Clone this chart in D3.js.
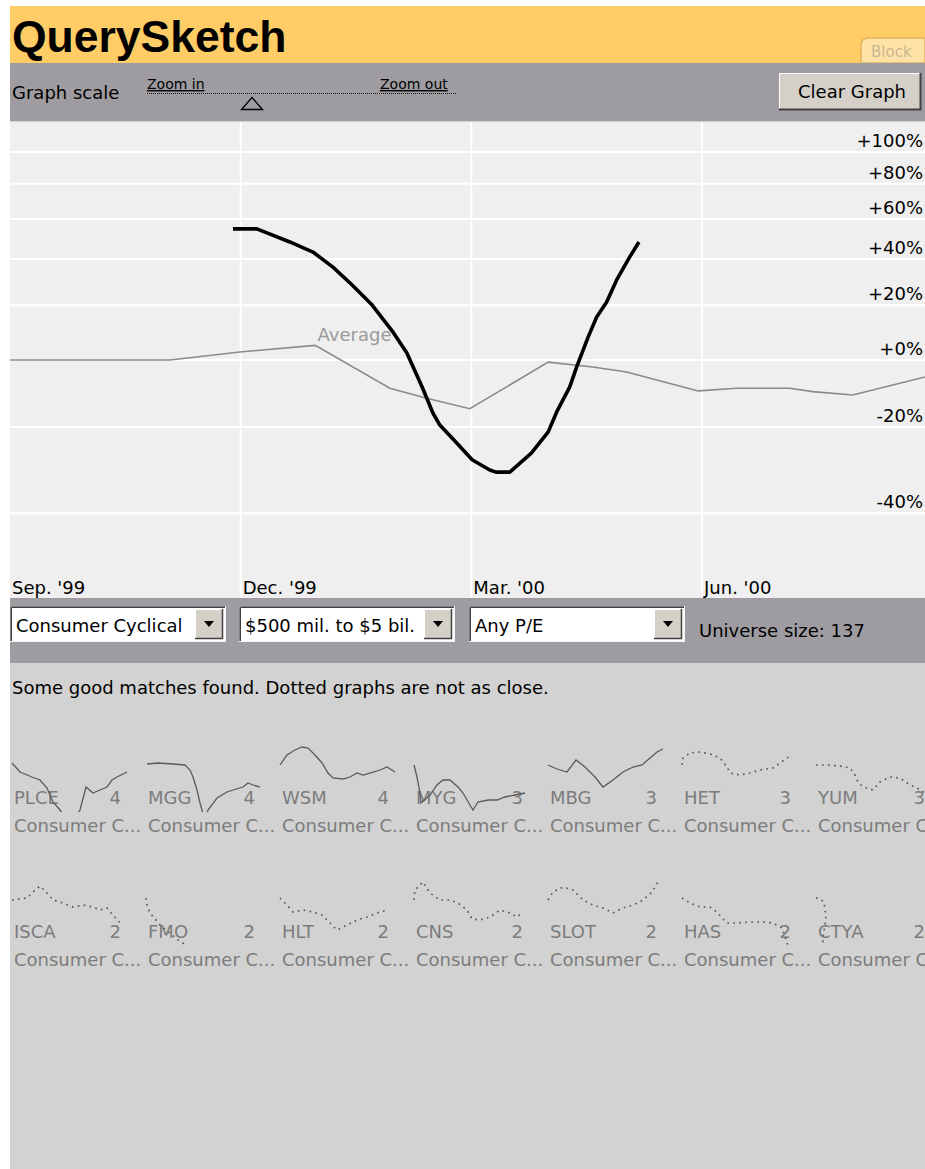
<!DOCTYPE html>
<html><head><meta charset="utf-8">
<script src="https://cdn.jsdelivr.net/npm/d3@7"></script>
<style>
body{margin:0;background:#fff}
svg{display:block}
text{font-family:"DejaVu Sans",sans-serif;font-size:18px}
</style>
</head><body>
<svg id="c" width="925" height="1169"></svg>
<script>
// ---------- data ----------
const xTickMonths = [0, 3, 6, 9];
const xTickLabels = ["Sep. '99", "Dec. '99", "Mar. '00", "Jun. '00"];
const yTicks = [100, 80, 60, 40, 20, 0, -20, -40];

// months since Sep '99, percent change
const avgMonths = [0, 2.08, 2.99, 3.97, 4.94, 5.42, 5.98, 7.0, 7.58, 8.02, 8.95, 9.45, 10.14, 10.44, 10.96, 11.9];
const avgValues = [0, 0, 2.7, 5.0, -9, -12, -15, -0.7, -2.3, -3.9, -9.8, -9, -9, -10, -11, -5.5];

const sketchMonths = [2.90, 3.21, 3.64, 3.94, 4.20, 4.45, 4.71, 4.98, 5.16, 5.36, 5.50, 5.59, 5.81, 6.01, 6.24, 6.32, 6.50, 6.78, 7.00, 7.11, 7.28, 7.37, 7.52, 7.63, 7.76, 7.89, 8.06, 8.18];
const sketchValues = [54.8, 54.8, 48.2, 43.3, 36.3, 28.4, 20.1, 9.8, 2.4, -8.6, -16.2, -19.5, -24.2, -28.3, -30.7, -31.2, -31.2, -26.7, -21.3, -15.9, -8.6, -2.3, 8.0, 15.4, 21.3, 30.6, 41.0, 48.2];

const filterLabels = ["Consumer Cyclical", "$500 mil. to $5 bil.", "Any P/E"];
const universeSize = 137;

const thumbTickers = ["PLCE", "MGG", "WSM", "MYG", "MBG", "HET", "YUM", "ISCA", "FMO", "HLT", "CNS", "SLOT", "HAS", "CTYA"];
const thumbScores = [4, 4, 4, 3, 3, 3, 3, 2, 2, 2, 2, 2, 2, 2];
const thumbSector = "Consumer C...";
const thumbDotted = [false, false, false, false, false, true, true, true, true, true, true, true, true, true];
// normalized sparkline shapes: [time index, relative level]
const thumbSeries = [
  [[0,49],[8,40],[20,35],[28,32],[35,24],[41,10],[48,2],[58,-13],[68,2],[74,25],[81,19],[88,22],[95,25],[100,32],[105,35],[115,40]],
  [[1,48],[12,49],[27,48],[39,47],[44,42],[47,35],[51,22],[54,9],[56,2],[58,-10],[62,2],[71,14],[81,20],[87,22],[97,25],[102,29],[107,27],[114,25]],
  [[0,47],[7,57],[15,62],[22,65],[28,64],[35,57],[42,49],[48,39],[53,34],[63,33],[70,35],[77,39],[83,37],[90,39],[100,42],[107,45],[115,40]],
  [[0,47],[3,35],[6,19],[7,9],[16,17],[23,27],[29,32],[36,32],[44,25],[49,19],[56,7],[59,2],[64,10],[74,12],[83,12],[91,15],[101,17],[111,19]],
  [[0,47],[9,43],[19,40],[28,52],[37,45],[47,35],[55,25],[65,32],[75,40],[85,45],[94,47],[102,54],[109,60],[115,63]],
  [[0,47],[1,54],[8,59],[18,60],[28,58],[38,54],[45,45],[48,39],[58,37],[68,39],[78,42],[91,44],[98,49],[108,56]],
  [[0,47],[11,47],[24,46],[34,44],[39,37],[42,30],[47,25],[57,22],[64,30],[74,35],[84,34],[94,27],[101,24],[109,19]],
  [[0,46],[15,48],[21,54],[28,60],[35,53],[41,46],[51,43],[61,39],[71,41],[81,39],[88,36],[95,38],[101,31],[108,23]],
  [[0,48],[1,41],[4,33],[15,20],[25,12],[32,6],[37,3],[45,-10]],
  [[0,48],[7,41],[13,34],[23,36],[33,34],[42,31],[50,23],[57,16],[67,21],[77,26],[87,29],[97,33],[107,36]],
  [[0,46],[1,56],[9,64],[16,53],[26,46],[36,46],[44,43],[53,36],[58,27],[66,26],[76,29],[86,36],[96,33],[103,29],[109,34]],
  [[0,46],[5,54],[15,59],[25,56],[35,46],[45,41],[55,38],[65,33],[75,38],[85,41],[95,46],[104,54],[110,64]],
  [[0,48],[8,43],[18,39],[28,39],[35,34],[40,28],[45,23],[55,23],[68,24],[81,24],[91,23],[100,18],[103,9],[105,4],[108,-10]],
  [[0,48],[4,47],[8,44],[9,36],[10,30],[9,21],[7,9],[7,-10]]
];

// ---------- layout ----------
const svg = d3.select("#c");
const W = 925;
const L = 10;
const plotTop = 121, plotBottom = 598;

// header
svg.append("rect").attr("x", L).attr("y", 6).attr("width", W - L).attr("height", 57).attr("fill", "#FFCC66");
svg.append("text").attr("x", 12).attr("y", 52).text("QuerySketch")
  .style("font-family", "'Liberation Sans',Arial,sans-serif").style("font-size", "44.5px").style("font-weight", "bold").attr("fill", "#000");
// Block tab
svg.append("path").attr("d", "M861,63 L861,46 Q861,38 869,38 L925,38 L925,63 Z")
  .attr("fill", "#FFE3A6").attr("stroke", "#E2B35E").attr("stroke-width", 1.5);
svg.append("text").attr("x", 871).attr("y", 57).text("Block").style("font-size", "15px").attr("fill", "#C9B793");

// graph scale bar
svg.append("rect").attr("x", L).attr("y", 63).attr("width", W - L).attr("height", 58).attr("fill", "#9E9CA0");
svg.append("text").attr("x", 12).attr("y", 99).text("Graph scale").attr("fill", "#000");
svg.append("text").attr("x", 147).attr("y", 89).text("Zoom in").style("font-size", "14px").style("text-decoration", "underline").attr("fill", "#000");
svg.append("text").attr("x", 380).attr("y", 89).text("Zoom out").style("font-size", "14px").style("text-decoration", "underline").attr("fill", "#000");
svg.append("line").attr("x1", 147).attr("x2", 456).attr("y1", 93.5).attr("y2", 93.5)
  .attr("stroke", "#111").attr("stroke-width", 1).attr("stroke-dasharray", "1,1");
svg.append("path").attr("d", "M252,97.5 L241.5,109.5 L262.5,109.5 Z").attr("fill", "none").attr("stroke", "#000").attr("stroke-width", 1.3);
// Clear Graph button
const btn = svg.append("g");
btn.append("rect").attr("x", 779).attr("y", 73).attr("width", 142).attr("height", 37).attr("fill", "#D4D0C8");
btn.append("path").attr("d", "M779.5,109.5 L779.5,73.5 L920.5,73.5").attr("fill", "none").attr("stroke", "#fff");
btn.append("path").attr("d", "M779,109.5 L920.5,109.5 L920.5,73").attr("fill", "none").attr("stroke", "#404040").attr("stroke-width", 2);
btn.append("text").attr("x", 798).attr("y", 98).text("Clear Graph").attr("fill", "#000");

// plot area
svg.append("rect").attr("x", L).attr("y", plotTop).attr("width", W - L).attr("height", plotBottom - plotTop).attr("fill", "#EFEFEF");
svg.append("line").attr("x1", L).attr("x2", W).attr("y1", plotTop + 0.5).attr("y2", plotTop + 0.5).attr("stroke", "#cfcfcf");

const x = d3.scaleLinear().domain([0, 11.9]).range([L, W]);
const y = d3.scaleLog().domain([0.4523, 2.218]).range([plotBottom, plotTop]);
const yv = v => y(1 + v / 100);

const grid = svg.append("g");
grid.selectAll("line.h").data(yTicks).join("line").attr("class", "h")
  .attr("x1", L).attr("x2", W).attr("y1", d => yv(d)).attr("y2", d => yv(d))
  .attr("stroke", "#fff").attr("stroke-width", 2);
grid.selectAll("line.v").data(xTickMonths.filter(m => m > 0)).join("line").attr("class", "v")
  .attr("x1", d => x(d)).attr("x2", d => x(d)).attr("y1", plotTop + 1).attr("y2", plotBottom)
  .attr("stroke", "#fff").attr("stroke-width", 2);

svg.append("g").selectAll("text").data(yTicks).join("text")
  .attr("x", 923).attr("y", d => yv(d) - 5).attr("text-anchor", "end").attr("fill", "#000")
  .text(d => (d >= 0 ? "+" : "") + d + "%");
svg.append("g").selectAll("text").data(xTickMonths).join("text")
  .attr("x", d => x(d) + 2).attr("y", 594).attr("fill", "#000")
  .text((d, i) => xTickLabels[i]);

const line = d3.line().x(d => x(d[0])).y(d => yv(d[1]));
svg.append("path").datum(avgMonths.map((m, i) => [m, avgValues[i]]))
  .attr("d", line).attr("fill", "none").attr("stroke", "#8a8a8a").attr("stroke-width", 1.6);
svg.append("text").attr("x", x(4.0)).attr("y", 341).text("Average").attr("fill", "#9a9a9a");
svg.append("path").datum(sketchMonths.map((m, i) => [m, sketchValues[i]]))
  .attr("d", line).attr("fill", "none").attr("stroke", "#000")
  .attr("stroke-width", 3.6).attr("stroke-linejoin", "round").attr("stroke-linecap", "butt");

// control bar
svg.append("rect").attr("x", L).attr("y", plotBottom).attr("width", W - L).attr("height", 65).attr("fill", "#9E9CA0");
const boxX = [10, 239, 469];
boxX.forEach((bx, i) => {
  const g = svg.append("g");
  const bw = 216, by = 606, bh = 36;
  g.append("rect").attr("x", bx).attr("y", by).attr("width", bw).attr("height", bh).attr("fill", "#fff");
  g.append("path").attr("d", `M${bx + 0.5},${by + bh} L${bx + 0.5},${by + 0.5} L${bx + bw},${by + 0.5}`).attr("fill", "none").attr("stroke", "#808080");
  g.append("path").attr("d", `M${bx + 1.5},${by + bh - 1} L${bx + 1.5},${by + 1.5} L${bx + bw - 1},${by + 1.5}`).attr("fill", "none").attr("stroke", "#404040");
  g.append("path").attr("d", `M${bx},${by + bh - 0.5} L${bx + bw - 0.5},${by + bh - 0.5} L${bx + bw - 0.5},${by}`).attr("fill", "none").attr("stroke", "#f4f4f4");
  const ax = bx + bw - 31, ay = by + 3, aw = 28, ah = 30;
  g.append("rect").attr("x", ax).attr("y", ay).attr("width", aw).attr("height", ah).attr("fill", "#D4D0C8");
  g.append("path").attr("d", `M${ax + 0.5},${ay + ah} L${ax + 0.5},${ay + 0.5} L${ax + aw},${ay + 0.5}`).attr("fill", "none").attr("stroke", "#fff");
  g.append("path").attr("d", `M${ax},${ay + ah - 0.5} L${ax + aw - 0.5},${ay + ah - 0.5} L${ax + aw - 0.5},${ay}`).attr("fill", "none").attr("stroke", "#404040").attr("stroke-width", 1.5);
  const cx = ax + aw / 2, cy = ay + ah / 2;
  g.append("path").attr("d", `M${cx - 5},${cy - 3} L${cx + 5},${cy - 3} L${cx},${cy + 3} Z`).attr("fill", "#000");
  g.append("text").attr("x", bx + 6).attr("y", 632).text(filterLabels[i]).attr("fill", "#000");
});
svg.append("text").attr("x", 699).attr("y", 637).text("Universe size: " + universeSize).attr("fill", "#000");

// results area
svg.append("rect").attr("x", L).attr("y", 663).attr("width", W - L).attr("height", 1169 - 663).attr("fill", "#D2D2D2");
svg.append("text").attr("x", 12).attr("y", 694).text("Some good matches found. Dotted graphs are not as close.").attr("fill", "#000");

const defs = svg.append("defs");
thumbTickers.forEach((tk, i) => {
  const row = Math.floor(i / 7), col = i % 7;
  const cx = 12 + 134 * col, ry = 134 * row;
  const g = svg.append("g");
  g.append("text").attr("x", cx + 2).attr("y", 804 + ry).text(tk).attr("fill", "#7c7c7c");
  g.append("text").attr("x", cx + 109).attr("y", 804 + ry).attr("text-anchor", "end").text(thumbScores[i]).attr("fill", "#7c7c7c");
  g.append("text").attr("x", cx + 2).attr("y", 832 + ry).text(thumbSector).attr("fill", "#7c7c7c");
  defs.append("clipPath").attr("id", "cp" + i).append("rect")
    .attr("x", cx - 3).attr("y", 733 + ry).attr("width", 126).attr("height", 79);
  const tx = d3.scaleLinear().domain([0, 118]).range([cx, cx + 118]);
  const ty = d3.scaleLinear().domain([0, 77]).range([812 + ry, 735 + ry]);
  const sl = d3.line().x(d => tx(d[0])).y(d => ty(d[1]));
  g.append("path").datum(thumbSeries[i]).attr("d", sl).attr("clip-path", `url(#cp${i})`)
    .attr("fill", "none").attr("stroke", "#5a5a5a")
    .attr("stroke-width", thumbDotted[i] ? 1.7 : 1.3)
    .attr("stroke-dasharray", thumbDotted[i] ? "1.7,4.3" : null);
});
</script>
</body></html>
